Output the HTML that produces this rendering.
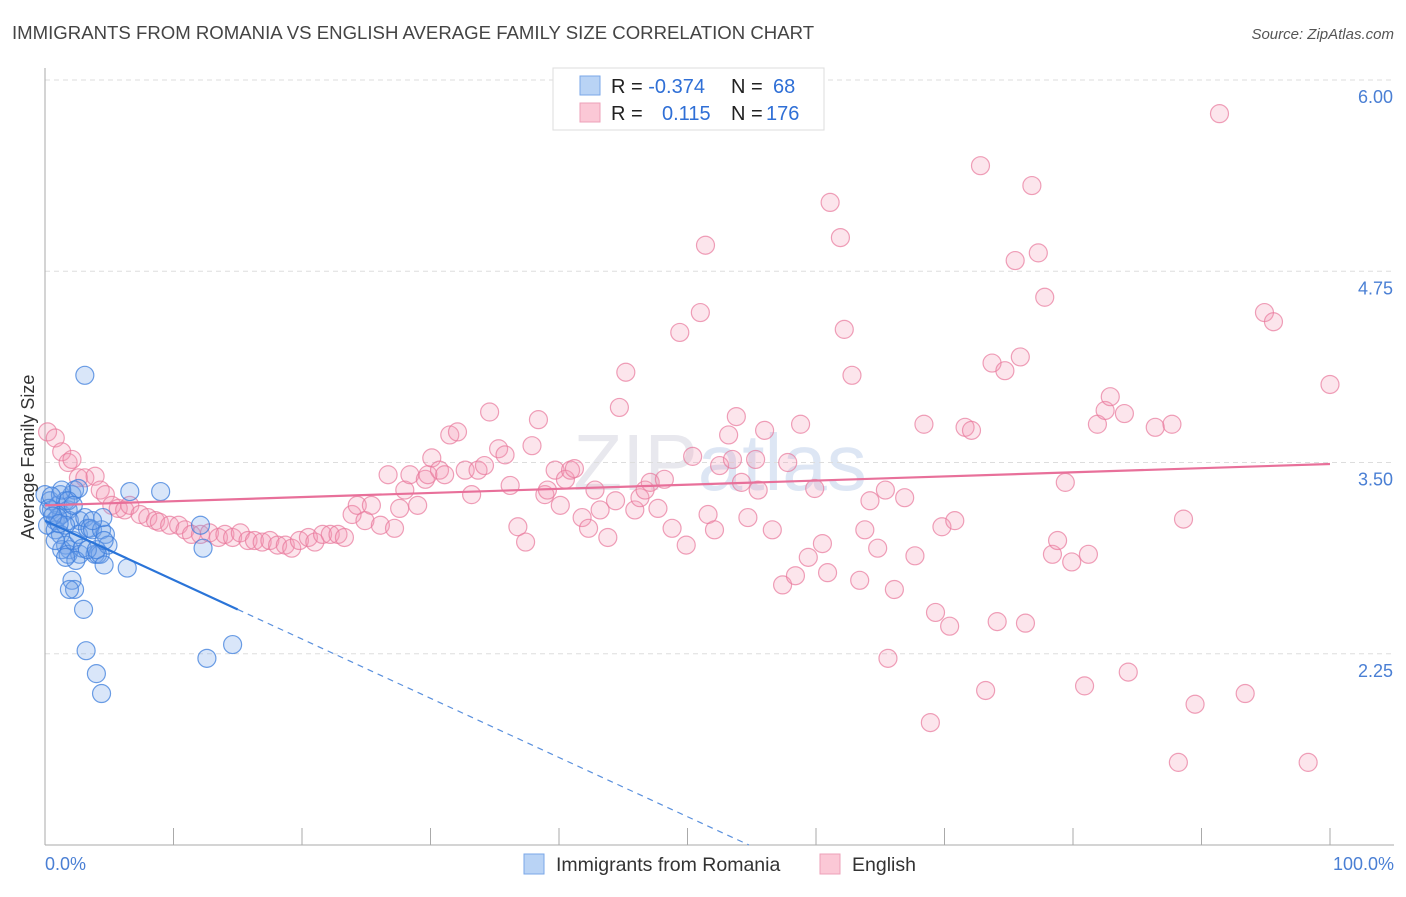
<!DOCTYPE html>
<html><head><meta charset="utf-8"><style>
body{margin:0;background:#fff;font-family:"Liberation Sans",sans-serif}
svg text{font-family:"Liberation Sans",sans-serif}
</style></head><body>
<svg id="chart" width="1406" height="892" xmlns="http://www.w3.org/2000/svg">
<text x="12" y="39" font-size="18.6" fill="#444">IMMIGRANTS FROM ROMANIA VS ENGLISH AVERAGE FAMILY SIZE CORRELATION CHART</text>
<text x="1394" y="39" font-size="15" fill="#555" text-anchor="end" font-style="italic">Source: ZipAtlas.com</text>
<text x="720" y="490" font-size="80" fill="#e8e8ee" text-anchor="middle" font-family="Liberation Serif">ZIP<tspan fill="#dde6f4" font-family="Liberation Sans">atlas</tspan></text>
<g id="grid"></g>
<g id="axes"></g>
<g id="pink-pts"></g>
<g id="blue-pts"></g>
<g id="lines"></g>
<text transform="translate(34,457) rotate(-90)" font-size="18" fill="#333" text-anchor="middle">Average Family Size</text>
<text x="45" y="870" font-size="18" fill="#4a7fd4">0.0%</text>
<text x="1394" y="870" font-size="18" fill="#4a7fd4" text-anchor="end">100.0%</text>
<g>
<rect x="553" y="68" width="271" height="62" fill="#fff" stroke="#ddd"/>
<rect x="580" y="76" width="20" height="19" fill="#b9d3f5" stroke="#7aa7e8"/>
<rect x="580" y="103" width="20" height="19" fill="#fbc8d6" stroke="#eea0b8"/>
<text x="611" y="93" font-size="20" fill="#222">R = <tspan fill="#2f6fd6">-0.374</tspan><tspan x="731">N =</tspan><tspan x="773" fill="#2f6fd6">68</tspan></text>
<text x="611" y="120" font-size="20" fill="#222">R = <tspan x="662" fill="#2f6fd6">0.115</tspan><tspan x="731">N =</tspan><tspan x="766" fill="#2f6fd6">176</tspan></text>
</g>
<g>
<rect x="524" y="854" width="20" height="20" fill="#b9d3f5" stroke="#7aa7e8"/>
<text x="556" y="871" font-size="19.5" fill="#333">Immigrants from Romania</text>
<rect x="820" y="854" width="20" height="20" fill="#fbc8d6" stroke="#eea0b8"/>
<text x="852" y="871" font-size="19.5" fill="#333">English</text>
</g>
</svg>
<script>
const yTicks=[6.00,4.75,3.50,2.25];
const yTickLabels=["6.00","4.75","3.50","2.25"];
const blueX=[0,0.4,0.5,0.8,1.0,1.2,1.3,1.6,1.8,1.9,2.1,2.3,2.6,2.7,0.2,0.8,1.2,1.6,1.9,1.3,1.8,2.2,2.6,2.7,2.9,3.1,3.3,3.5,3.7,3.9,4.1,4.3,4.4,4.6,4.7,4.9,4.5,3.1,6.6,9.0,6.4,12.1,12.3,2.1,2.3,1.9,3.0,3.2,4.0,4.4,12.6,14.6,1.3,1.0,1.6,0.8,1.8,2.2,2.4,1.6,3.3,4.0,3.7,4.6,0.3,0.6,1.1,0.5];
const blueY=[3.29,3.25,3.19,3.12,3.22,3.29,3.16,3.25,3.19,3.12,3.29,3.32,3.33,3.12,3.09,3.06,3.03,2.96,2.93,2.93,2.90,2.99,3.03,2.90,2.94,3.14,3.07,3.07,3.06,2.90,2.90,2.90,3.06,2.83,3.03,2.96,3.14,4.07,3.31,3.31,2.81,3.09,2.94,2.73,2.67,2.67,2.54,2.27,2.12,1.99,2.22,2.31,3.32,3.14,3.09,2.99,3.25,3.22,2.86,2.88,2.93,2.93,3.12,2.99,3.20,3.15,3.10,3.28];
const pinkX=[0.2,0.8,1.3,1.8,2.1,2.6,3.1,3.9,4.3,4.7,5.2,5.7,6.2,6.6,7.4,8.0,8.6,8.9,9.7,10.4,10.9,11.4,12.1,12.8,13.5,14.0,14.6,15.2,15.8,16.3,16.9,17.5,18.1,18.7,19.2,19.8,20.5,21.0,21.6,22.2,22.8,23.3,23.9,24.3,24.9,25.4,26.1,26.7,27.2,27.6,28.0,28.4,29.0,29.6,29.8,30.1,30.7,31.1,31.5,32.1,32.7,33.2,33.7,34.2,34.6,35.3,35.8,36.2,36.8,37.4,37.9,38.4,38.9,39.1,39.7,40.1,40.5,40.9,41.2,41.8,42.3,42.8,43.2,43.8,44.4,44.7,45.2,45.9,46.3,46.7,47.1,47.7,48.2,48.8,49.4,49.9,50.4,51.0,51.4,51.6,52.1,52.5,53.2,53.5,53.8,54.2,54.7,55.3,55.5,56.0,56.6,57.4,57.8,58.4,58.8,59.4,59.9,60.5,60.9,61.1,61.9,62.2,62.8,63.4,63.8,64.2,64.8,65.4,65.6,66.1,66.9,67.7,68.4,68.9,69.3,69.8,70.4,70.8,71.6,72.1,72.8,73.2,73.7,74.1,74.7,75.5,75.9,76.3,76.8,77.3,77.8,78.4,78.8,79.4,79.9,80.9,81.2,81.9,82.5,82.9,84.0,84.3,86.4,87.7,88.2,88.6,89.5,91.4,93.4,94.9,95.6,98.3,100];
const pinkY=[3.70,3.66,3.57,3.50,3.52,3.40,3.40,3.41,3.32,3.29,3.22,3.20,3.19,3.22,3.16,3.14,3.12,3.11,3.09,3.09,3.06,3.03,3.03,3.04,3.01,3.03,3.01,3.04,2.99,2.99,2.98,2.99,2.96,2.96,2.94,2.99,3.01,2.98,3.03,3.03,3.03,3.01,3.16,3.22,3.12,3.22,3.09,3.42,3.07,3.20,3.32,3.42,3.22,3.39,3.42,3.53,3.45,3.42,3.68,3.70,3.45,3.29,3.45,3.48,3.83,3.59,3.55,3.35,3.08,2.98,3.61,3.78,3.29,3.32,3.45,3.22,3.39,3.45,3.46,3.14,3.07,3.32,3.19,3.01,3.25,3.86,4.09,3.19,3.27,3.32,3.37,3.20,3.39,3.07,4.35,2.96,3.54,4.48,4.92,3.16,3.06,3.48,3.68,3.52,3.80,3.37,3.14,3.52,3.32,3.71,3.06,2.70,3.50,2.76,3.75,2.88,3.33,2.97,2.78,5.20,4.97,4.37,4.07,2.73,3.06,3.25,2.94,3.32,2.22,2.67,3.27,2.89,3.75,1.80,2.52,3.08,2.43,3.12,3.73,3.71,5.44,2.01,4.15,2.46,4.10,4.82,4.19,2.45,5.31,4.87,4.58,2.90,2.99,3.37,2.85,2.04,2.90,3.75,3.84,3.93,3.82,2.13,3.73,3.75,1.54,3.13,1.92,5.78,1.99,4.48,4.42,1.54,4.01];
const blueTrend=[3.12,-0.0387];
const pinkTrend=[3.22,0.0027];

const NS="http://www.w3.org/2000/svg";
const X0=45,X1=1330,YB=845;
function sx(v){return X0+(X1-X0)*v/100;}
function sy(v){return 80+(6-v)*153;}
function mk(tag,attrs,parent){const e=document.createElementNS(NS,tag);for(const k in attrs)e.setAttribute(k,attrs[k]);document.getElementById(parent).appendChild(e);return e;}
yTicks.forEach((t,i)=>{
  const g=mk('line',{x1:45,x2:1394,y1:sy(t),y2:sy(t),stroke:'#ddd','stroke-dasharray':'5,4'},'grid');
  
  
  const tx=mk('text',{x:1393,y:sy(t)+23,'font-size':18,fill:'#4a7fd4','text-anchor':'end'},'grid');
  tx.textContent=yTickLabels[i];
  
  
});
const ya=mk('line',{x1:45,x2:45,y1:68,y2:845,stroke:'#aaa'},'axes');


const xa=mk('line',{x1:45,x2:1394,y1:845,y2:845,stroke:'#aaa'},'axes');


for(let i=0;i<=10;i++){
  const tk=mk('line',{x1:sx(i*10),x2:sx(i*10),y1:828,y2:845,stroke:'#aaa'},'axes');
  
  
}
pinkX.forEach((x,i)=>{
  const c=mk('circle',{cx:sx(x),cy:sy(pinkY[i]),r:9,fill:'rgba(245,150,180,0.25)',stroke:'rgba(232,120,155,0.7)','stroke-width':1.2},'pink-pts');
  
  
});
blueX.forEach((x,i)=>{
  const c=mk('circle',{cx:sx(x),cy:sy(blueY[i]),r:9,fill:'rgba(120,165,235,0.28)',stroke:'rgba(60,125,220,0.75)','stroke-width':1.2},'blue-pts');
  
  
});
const bl=mk('line',{x1:sx(0),y1:sy(blueTrend[0]),x2:sx(15),y2:sy(blueTrend[0]+blueTrend[1]*15),stroke:'#2a74d8','stroke-width':2.2},'lines');


const xe=(1.0-blueTrend[0])/blueTrend[1];
const bd=mk('line',{x1:sx(15),y1:sy(blueTrend[0]+blueTrend[1]*15),x2:sx(xe),y2:sy(1.0),stroke:'#5a90dd','stroke-width':1.2,'stroke-dasharray':'6,5'},'lines');


const pl=mk('line',{x1:sx(0),y1:sy(pinkTrend[0]),x2:sx(100),y2:sy(pinkTrend[0]+pinkTrend[1]*100),stroke:'#e8709a','stroke-width':2.2},'lines');


</script>
</body></html>
